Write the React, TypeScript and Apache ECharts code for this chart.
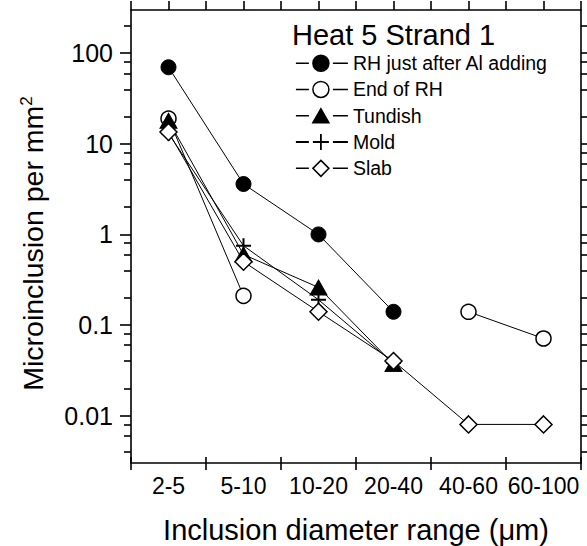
import React, { useEffect, useRef } from 'react';
import * as echarts from 'echarts';

// ---- data ----
const categories = ['2-5', '5-10', '10-20', '20-40', '40-60', '60-100'];
const rhAfterAl = [70, 3.6, 1.0, 0.14, null, null];
const endOfRH = [19, 0.21, null, null, 0.14, 0.071];
const tundish = [18, 0.6, 0.26, 0.037, null, null];
const mold = [13, 0.75, 0.19, 0.038, null, null];
const slab = [13.5, 0.5, 0.14, 0.04, 0.008, 0.008];

const seriesNames = ['RH just after Al adding', 'End of RH', 'Tundish', 'Mold', 'Slab'];

const yMin = 0.003;
const yMax = 300;
const yMajorTicks = [0.01, 0.1, 1, 10, 100];
const yTickLabels = ['0.01', '0.1', '1', '10', '100'];
const yMinorTicks = [0.004, 0.006, 0.008, 0.02, 0.04, 0.06, 0.08, 0.2, 0.4, 0.6, 0.8, 2, 4, 6, 8, 20, 40, 60, 80, 200];
const topTickSteps = 12;

const FONT = '"Liberation Sans", Arial, Helvetica, sans-serif';
const BLACK = '#000';
const AXW = 1.6;

const L = Math.log10;
const majorLog = yMajorTicks.map(L);
const minorLog = yMinorTicks.map(L);
const logMin = L(yMin);
const logMax = L(yMax);

function labelFor(v: number) {
  for (let i = 0; i < majorLog.length; i++) {
    if (Math.abs(majorLog[i] - v) < 1e-6) return yTickLabels[i];
  }
  return '';
}

function decoY(position: 'left' | 'right', ticks: number[], len: number, showLine: boolean, showLabel: boolean): any {
  return {
    type: 'value',
    position,
    min: logMin,
    max: logMax,
    axisLine: { show: showLine, onZero: false, lineStyle: { color: BLACK, width: AXW } },
    axisTick: { show: true, customValues: ticks, length: len, lineStyle: { color: BLACK, width: AXW } },
    axisLabel: showLabel
      ? {
          show: true,
          customValues: ticks,
          formatter: (v: number) => labelFor(v),
          color: BLACK,
          fontFamily: FONT,
          fontSize: 25,
          margin: 18,
        }
      : { show: false },
    splitLine: { show: false },
  };
}

// legend icons: dash - marker - dash (with small gaps), box 52 x 19
const BOX = 'M0,0M52,19';
const DASHES = 'M0,9.5L13,9.5M37,9.5L52,9.5';
const iconCircle = `path://${BOX}${DASHES}M33,9.5A8,8,0,1,1,17,9.5A8,8,0,1,1,33,9.5Z`;
const iconTriangle = `path://${BOX}${DASHES}M17,16.5L25,2.5L33,16.5Z`;
const iconPlus = `path://${BOX}${DASHES}M25,1.5L25,17.5M17,9.5L33,9.5`;
const iconDiamond = `path://${BOX}${DASHES}M25,1.5L33,9.5L25,17.5L17,9.5Z`;

const legendData = [
  { name: seriesNames[0], icon: iconCircle, itemStyle: { color: BLACK, borderColor: BLACK, borderWidth: 1.5 } },
  { name: seriesNames[1], icon: iconCircle, itemStyle: { color: '#fff', borderColor: BLACK, borderWidth: 1.5 } },
  { name: seriesNames[2], icon: iconTriangle, itemStyle: { color: BLACK, borderColor: BLACK, borderWidth: 1.5 } },
  { name: seriesNames[3], icon: iconPlus, itemStyle: { color: BLACK, borderColor: BLACK, borderWidth: 1.8 } },
  { name: seriesNames[4], icon: iconDiamond, itemStyle: { color: '#fff', borderColor: BLACK, borderWidth: 1.5 } },
];

const lineStyle = { color: BLACK, width: 1 };

const option: any = {
  animation: false,
  backgroundColor: '#fff',
  textStyle: { fontFamily: FONT, color: BLACK },
  title: {
    text: 'Heat 5 Strand 1',
    left: 292,
    top: 20,
    padding: 0,
    textStyle: { fontFamily: FONT, fontSize: 29, fontWeight: 'normal', color: BLACK },
  },
  legend: {
    orient: 'vertical',
    left: 295,
    top: 53,
    padding: 0,
    itemWidth: 52,
    itemHeight: 19,
    itemGap: 5.7,
    selectedMode: false,
    data: legendData,
    textStyle: { fontFamily: FONT, fontSize: 19.5, lineHeight: 20, color: BLACK },
  },
  grid: { left: 131, right: 6, top: 10, bottom: 83, containLabel: false, outerBoundsMode: 'none' },
  xAxis: [
    {
      type: 'category',
      position: 'bottom',
      data: categories,
      boundaryGap: true,
      axisLine: { show: true, onZero: false, lineStyle: { color: BLACK, width: AXW } },
      axisTick: { show: true, interval: 0, length: 7, lineStyle: { color: BLACK, width: AXW } },
      axisLabel: { interval: 0, color: BLACK, fontFamily: FONT, fontSize: 23, margin: 11 },
      splitLine: { show: false },
      name: 'Inclusion diameter range (μm)',
      nameLocation: 'middle',
      nameGap: 52,
      nameTextStyle: { color: BLACK, fontFamily: FONT, fontSize: 29 },
    },
    {
      type: 'category',
      position: 'bottom',
      data: categories,
      boundaryGap: true,
      axisLine: { show: false, onZero: false },
      axisTick: { show: true, inside: true, interval: 0, length: 6, lineStyle: { color: BLACK, width: AXW } },
      axisLabel: { show: false },
      splitLine: { show: false },
    },
    {
      type: 'value',
      position: 'top',
      min: 0,
      max: topTickSteps,
      interval: 1,
      axisLine: { show: true, onZero: false, lineStyle: { color: BLACK, width: AXW } },
      axisTick: { show: true, length: 9, lineStyle: { color: BLACK, width: AXW } },
      axisLabel: { show: false },
      splitLine: { show: false },
    },
  ],
  yAxis: [
    {
      type: 'log',
      logBase: 10,
      position: 'left',
      min: yMin,
      max: yMax,
      axisLine: { show: true, onZero: false, lineStyle: { color: BLACK, width: AXW } },
      axisTick: { show: false },
      axisLabel: { show: false },
      splitLine: { show: false },
      minorTick: { show: false },
      name: '{a|Microinclusion per mm}{s|2}',
      nameLocation: 'middle',
      nameGap: 84,
      nameTextStyle: {
        color: BLACK,
        fontFamily: FONT,
        padding: [0, 14, 0, 0],
        rich: {
          a: { fontSize: 28.5, fontFamily: FONT, color: BLACK },
          s: { fontSize: 17, fontFamily: FONT, color: BLACK, verticalAlign: 'top' },
        },
      },
    },
    decoY('left', majorLog, 11, false, true),
    decoY('left', minorLog, 7, false, false),
    decoY('right', majorLog, 11, true, false),
    decoY('right', minorLog, 7, false, false),
  ],
  series: [
    {
      name: seriesNames[0],
      type: 'line',
      data: rhAfterAl,
      symbol: 'circle',
      symbolSize: 15,
      itemStyle: { color: BLACK, borderColor: BLACK, borderWidth: 1 },
      lineStyle,
    },
    {
      name: seriesNames[1],
      type: 'line',
      data: endOfRH,
      symbol: 'circle',
      symbolSize: 15,
      itemStyle: { color: '#fff', borderColor: BLACK, borderWidth: 1.5 },
      lineStyle,
    },
    {
      name: seriesNames[2],
      type: 'line',
      data: tundish,
      symbol: 'triangle',
      symbolSize: [17, 15],
      itemStyle: { color: BLACK, borderColor: BLACK, borderWidth: 1 },
      lineStyle,
    },
    {
      name: seriesNames[3],
      type: 'line',
      data: mold,
      symbol: 'path://M0,5L10,5M5,0L5,10',
      symbolSize: 15,
      itemStyle: { color: BLACK, borderColor: BLACK, borderWidth: 2 },
      lineStyle,
    },
    {
      name: seriesNames[4],
      type: 'line',
      data: slab,
      symbol: 'diamond',
      symbolSize: 17,
      itemStyle: { color: '#fff', borderColor: BLACK, borderWidth: 1.5 },
      lineStyle,
    },
  ],
};

export default function App() {
  const ref = useRef<HTMLDivElement>(null);
  useEffect(() => {
    const chart = echarts.init(ref.current!, null, { renderer: 'svg' });
    chart.setOption(option);
    return () => chart.dispose();
  }, []);
  return (
    <div
      ref={ref}
      style={{ position: 'fixed', left: 0, top: 0, width: 587, height: 546, background: '#fff' }}
    />
  );
}
